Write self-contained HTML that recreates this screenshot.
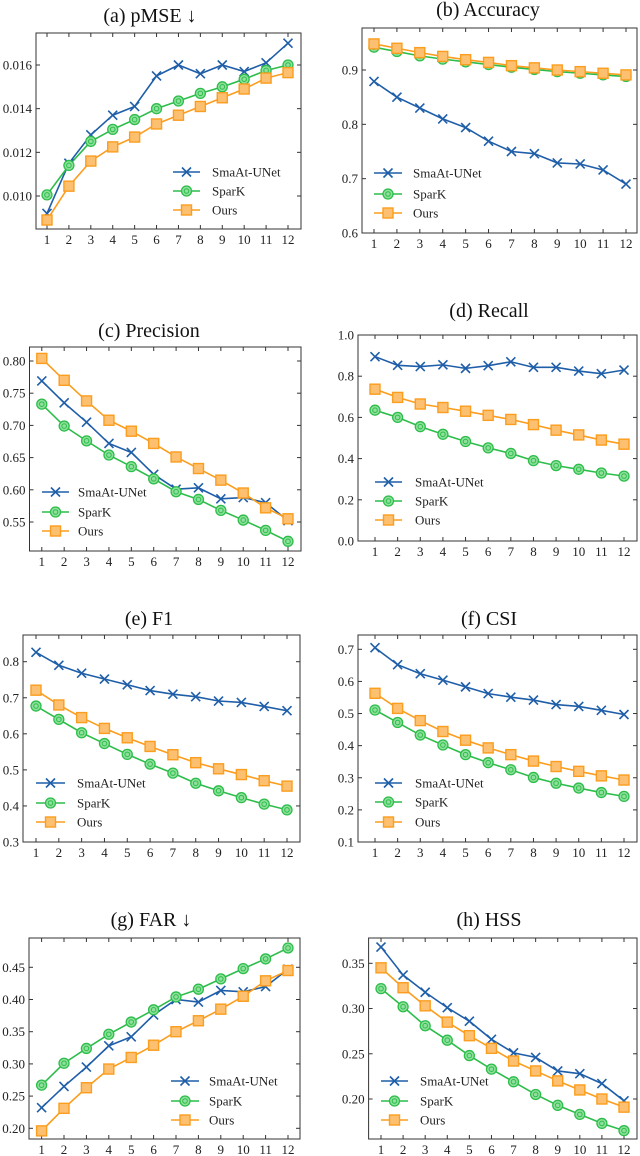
<!DOCTYPE html>
<html><head><meta charset="utf-8">
<style>
html,body{margin:0;padding:0;background:#fff;}
svg{display:block;font-family:"Liberation Serif","DejaVu Serif",serif;}
</style></head>
<body>
<svg id="fig" width="640" height="1156" viewBox="0 0 640 1156" xmlns="http://www.w3.org/2000/svg"></svg>
<script>
const steps = [1,2,3,4,5,6,7,8,9,10,11,12];
const seriesNames = ["SmaAt-UNet","SparK","Ours"];
// (a) pMSE
const pmseSmaat = [0.0092,0.0115,0.0128,0.0137,0.0141,0.0155,0.0160,0.0156,0.0160,0.0157,0.0161,0.0170];
const pmseSpark = [0.01005,0.0114,0.0125,0.01305,0.0135,0.0140,0.01435,0.0147,0.0150,0.01535,0.01575,0.0160];
const pmseOurs = [0.0089,0.01045,0.0116,0.01225,0.0127,0.0133,0.0137,0.0141,0.0145,0.0149,0.0154,0.01565];
const pmseTicks = [0.010,0.012,0.014,0.016];
// (b) Accuracy
const accSmaat = [0.879,0.850,0.830,0.810,0.794,0.769,0.750,0.746,0.729,0.727,0.716,0.690];
const accSpark = [0.942,0.934,0.926,0.920,0.915,0.910,0.905,0.901,0.897,0.894,0.891,0.888];
const accOurs = [0.948,0.940,0.932,0.925,0.919,0.914,0.908,0.904,0.900,0.897,0.894,0.891];
const accTicks = [0.6,0.7,0.8,0.9];
// (c) Precision
const precSmaat = [0.769,0.735,0.705,0.672,0.658,0.624,0.601,0.603,0.586,0.588,0.580,0.552];
const precSpark = [0.733,0.699,0.676,0.654,0.636,0.617,0.597,0.585,0.568,0.553,0.537,0.520];
const precOurs = [0.804,0.770,0.738,0.708,0.691,0.672,0.651,0.633,0.615,0.595,0.572,0.555];
const precTicks = [0.55,0.60,0.65,0.70,0.75,0.80];
// (d) Recall
const recSmaat = [0.895,0.853,0.847,0.855,0.838,0.851,0.870,0.843,0.843,0.825,0.812,0.830];
const recSpark = [0.635,0.600,0.555,0.518,0.483,0.452,0.425,0.390,0.366,0.348,0.330,0.315];
const recOurs = [0.737,0.697,0.665,0.648,0.630,0.610,0.590,0.565,0.538,0.515,0.490,0.470];
const recTicks = [0.0,0.2,0.4,0.6,0.8,1.0];
// (e) F1
const f1Smaat = [0.826,0.790,0.768,0.752,0.736,0.720,0.710,0.703,0.691,0.687,0.676,0.664];
const f1Spark = [0.677,0.640,0.603,0.573,0.543,0.516,0.491,0.463,0.442,0.423,0.405,0.389];
const f1Ours = [0.721,0.680,0.645,0.615,0.589,0.565,0.542,0.520,0.503,0.487,0.470,0.455];
const f1Ticks = [0.3,0.4,0.5,0.6,0.7,0.8];
// (f) CSI
const csiSmaat = [0.705,0.652,0.624,0.604,0.583,0.562,0.551,0.542,0.528,0.522,0.510,0.497];
const csiSpark = [0.511,0.472,0.433,0.402,0.372,0.347,0.325,0.301,0.283,0.268,0.254,0.242];
const csiOurs = [0.563,0.516,0.478,0.444,0.417,0.393,0.372,0.352,0.335,0.320,0.306,0.293];
const csiTicks = [0.1,0.2,0.3,0.4,0.5,0.6,0.7];
// (g) FAR
const farSmaat = [0.232,0.265,0.295,0.328,0.342,0.376,0.400,0.396,0.414,0.412,0.420,0.447];
const farSpark = [0.267,0.301,0.324,0.346,0.365,0.384,0.404,0.416,0.432,0.448,0.463,0.480];
const farOurs = [0.196,0.231,0.263,0.292,0.310,0.329,0.350,0.367,0.385,0.405,0.429,0.445];
const farTicks = [0.20,0.25,0.30,0.35,0.40,0.45];
// (h) HSS
const hssSmaat = [0.368,0.337,0.318,0.301,0.286,0.266,0.251,0.246,0.231,0.228,0.217,0.198];
const hssSpark = [0.322,0.302,0.281,0.265,0.248,0.233,0.219,0.205,0.193,0.183,0.173,0.165];
const hssOurs = [0.345,0.323,0.303,0.285,0.270,0.256,0.242,0.231,0.220,0.210,0.200,0.191];
const hssTicks = [0.20,0.25,0.30,0.35];

const NS = "http://www.w3.org/2000/svg";
const svg = document.getElementById("fig");
const COLORS = ["#1f5ea8","#2dbd4a","#fb9d1e"];
function mk(tag, attrs, parent){
  const e = document.createElementNS(NS, tag);
  for (const k in attrs) e.setAttribute(k, attrs[k]);
  (parent||svg).appendChild(e);
  return e;
}
function marker(g, kind, x, y){
  if (kind===0){
    const m = mk("path",{d:`M${x-4.5},${y-4.5}L${x+4.5},${y+4.5}M${x-4.5},${y+4.5}L${x+4.5},${y-4.5}`,stroke:COLORS[0],"stroke-width":1.6,fill:"none"},g);
    
    
  } else if (kind===1){
    const m = mk("circle",{cx:x,cy:y,r:5,fill:"#8fe09c",stroke:COLORS[1],"stroke-width":1.3},g);
    
    
    mk("circle",{cx:x,cy:y,r:2.3,fill:"none",stroke:COLORS[1],"stroke-width":1},g);
  } else {
    const m = mk("rect",{x:x-5,y:y-5,width:10,height:10,fill:"#fdc070",stroke:COLORS[2],"stroke-width":1.4},g);
    
    
  }
}
function panel(p){
  const g = mk("g",{});
  
  
  // y scale from two calibration ticks
  const yS = v => p.c1[1] + (v - p.c1[0]) * (p.c2[1]-p.c1[1])/(p.c2[0]-p.c1[0]);
  const xS = s => p.x1 + (s-1)*(p.x12-p.x1)/11;
  const t = mk("text",{x:p.tx,y:p.ty,"font-size":20,"text-anchor":"middle",fill:"#111"},g);
  t.textContent = p.title;
  
  
  const box = mk("rect",{x:p.L,y:p.T,width:p.R-p.L,height:p.B-p.T,fill:"none",stroke:"#333","stroke-width":1},g);
  
  
  p.ticks.forEach(v=>{
    const y = yS(v);
    mk("line",{x1:p.L,x2:p.L+4,y1:y,y2:y,stroke:"#333"},g);
    mk("line",{x1:p.R,x2:p.R-4,y1:y,y2:y,stroke:"#333"},g);
    const lb = mk("text",{x:p.L-4,y:y+4.5,"font-size":13,"text-anchor":"end",fill:"#222"},g);
    lb.textContent = v.toFixed(p.dec);
    
    
  });
  steps.forEach(s=>{
    const x = xS(s);
    mk("line",{x1:x,x2:x,y1:p.B,y2:p.B-4,stroke:"#333"},g);
    mk("line",{x1:x,x2:x,y1:p.T,y2:p.T+4,stroke:"#333"},g);
    const lb = mk("text",{x:x,y:p.B+15,"font-size":13,"text-anchor":"middle",fill:"#222"},g);
    lb.textContent = s;
    
    
  });
  p.series.forEach((vals,i)=>{
    const pts = vals.map((v,j)=>xS(steps[j])+","+yS(v)).join(" ");
    const l = mk("polyline",{points:pts,fill:"none",stroke:COLORS[i],"stroke-width":1.6},g);
    
    
  });
  p.series.forEach((vals,i)=>{ vals.forEach((v,j)=>marker(g,i,xS(steps[j]),yS(v))); });
  // legend
  const lg = mk("g",{},g);
  
  
  p.ly.forEach((y,i)=>{
    mk("line",{x1:p.lx1,x2:p.lx2,y1:y,y2:y,stroke:COLORS[i],"stroke-width":1.6},lg);
    marker(lg,i,(p.lx1+p.lx2)/2,y);
    const tx = mk("text",{x:p.ltx,y:y+4.5,"font-size":13,fill:"#222"},lg);
    tx.textContent = seriesNames[i];
    
    
  });
}
panel({name:"pmse-chart",title:"(a) pMSE ↓",tx:150,ty:22,L:36,R:301,T:33,B:229,x1:47,x12:288,
  c1:[0.010,196],c2:[0.016,65],ticks:pmseTicks,dec:3,series:[pmseSmaat,pmseSpark,pmseOurs],
  ly:[172,191,210],lx1:173,lx2:200,ltx:212});
panel({name:"accuracy-chart",title:"(b) Accuracy",tx:488,ty:16,L:362,R:637,T:28,B:233,x1:374,x12:626,
  c1:[0.6,233],c2:[0.9,70],ticks:accTicks,dec:1,series:[accSmaat,accSpark,accOurs],
  ly:[173,194,213],lx1:374,lx2:402,ltx:413});
panel({name:"precision-chart",title:"(c) Precision",tx:149,ty:337,L:29.5,R:301,T:347,B:551,x1:41.8,x12:288,
  c1:[0.55,522],c2:[0.80,361],ticks:precTicks,dec:2,series:[precSmaat,precSpark,precOurs],
  ly:[492,512,531],lx1:42,lx2:69,ltx:78});
panel({name:"recall-chart",title:"(d) Recall",tx:489,ty:317,L:358,R:637,T:335,B:541,x1:375,x12:624,
  c1:[0.0,541],c2:[1.0,335],ticks:recTicks,dec:1,series:[recSmaat,recSpark,recOurs],
  ly:[482,501,520],lx1:375,lx2:402,ltx:415});
panel({name:"f1-chart",title:"(e) F1",tx:149,ty:625,L:23,R:300,T:635,B:842,x1:36,x12:287,
  c1:[0.3,842],c2:[0.8,661.7],ticks:f1Ticks,dec:1,series:[f1Smaat,f1Spark,f1Ours],
  ly:[783,803,822],lx1:36,lx2:65,ltx:77});
panel({name:"csi-chart",title:"(f) CSI",tx:489,ty:625,L:358,R:637,T:635,B:842,x1:375,x12:624,
  c1:[0.1,842],c2:[0.7,649.3],ticks:csiTicks,dec:1,series:[csiSmaat,csiSpark,csiOurs],
  ly:[783,802,822],lx1:375,lx2:402,ltx:415});
panel({name:"far-chart",title:"(g) FAR ↓",tx:151,ty:926,L:29,R:300,T:938,B:1139,x1:41.6,x12:288,
  c1:[0.20,1128.3],c2:[0.45,967.3],ticks:farTicks,dec:2,series:[farSmaat,farSpark,farOurs],
  ly:[1081,1101,1120],lx1:171,lx2:199,ltx:209});
panel({name:"hss-chart",title:"(h) HSS",tx:489,ty:926,L:368.6,R:637,T:938,B:1139,x1:381,x12:624,
  c1:[0.20,1099],c2:[0.35,963.3],ticks:hssTicks,dec:2,series:[hssSmaat,hssSpark,hssOurs],
  ly:[1081,1101,1120],lx1:381,lx2:408,ltx:420});
</script>
</body></html>
